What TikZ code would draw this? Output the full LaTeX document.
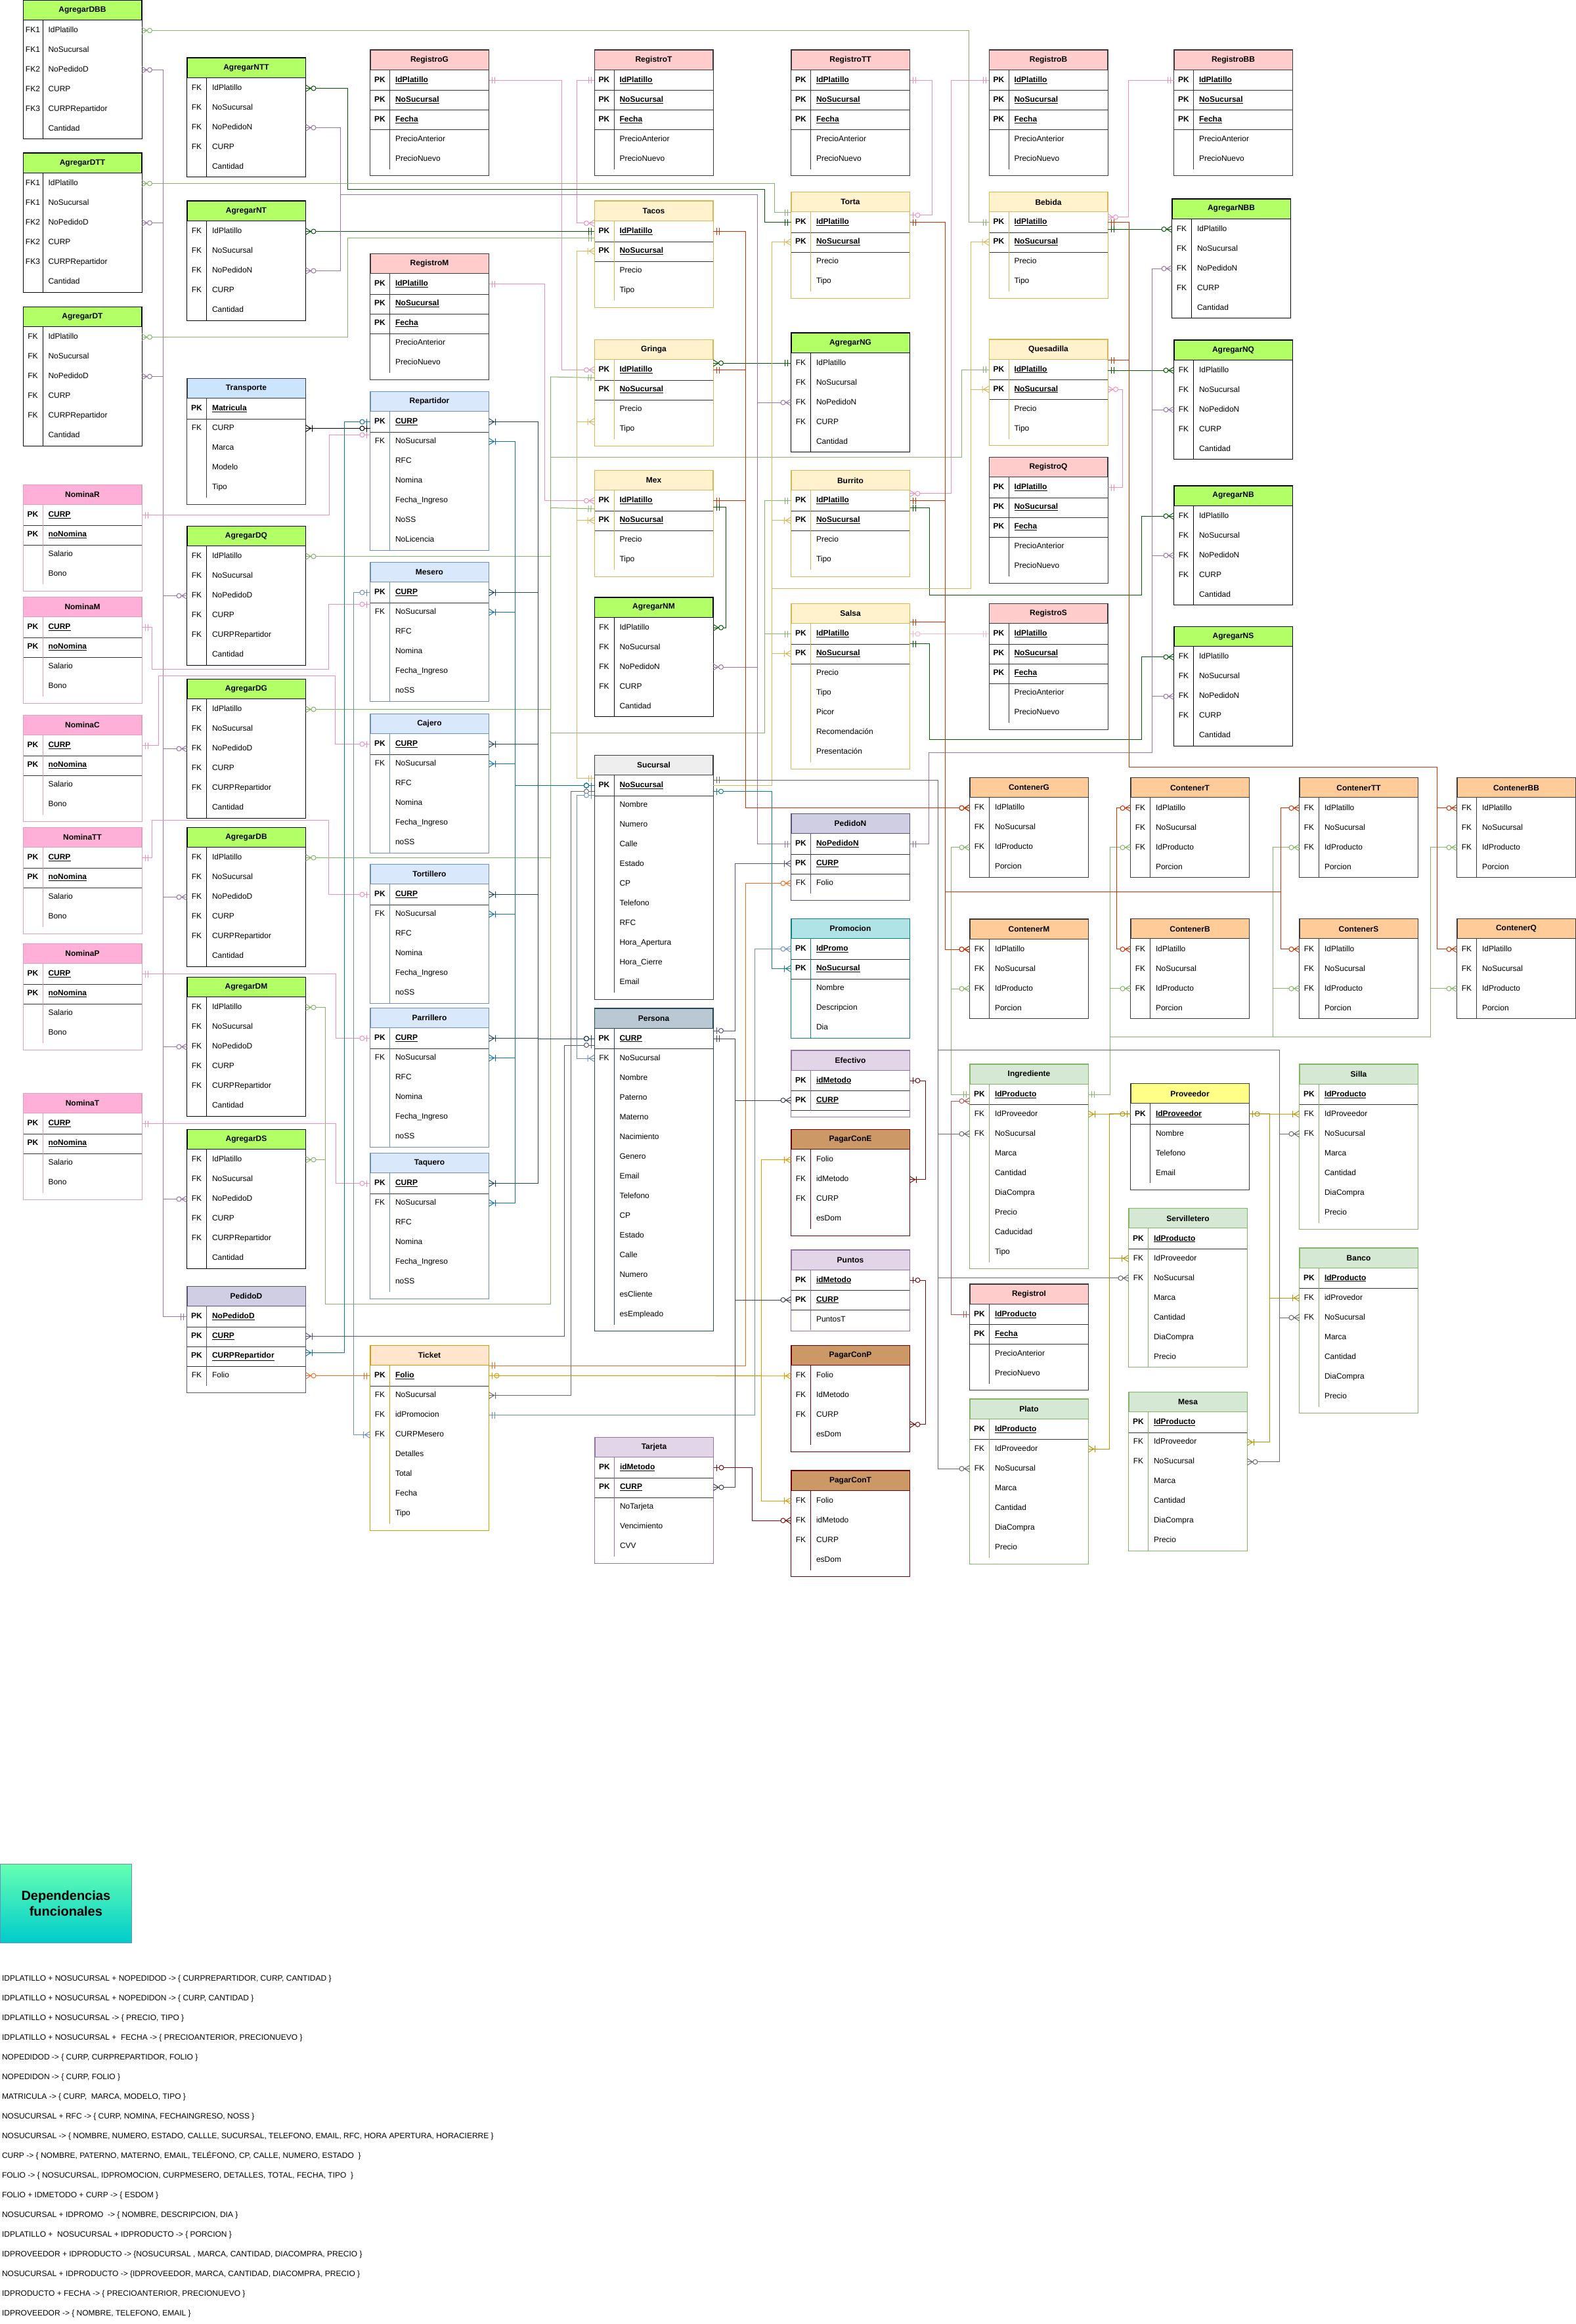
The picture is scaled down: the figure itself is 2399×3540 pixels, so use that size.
\documentclass[tikz,border=0pt]{standalone}
\usepackage{fontspec}
\setmainfont{Liberation Sans}
\usepackage{tikz}
\usetikzlibrary{decorations.markings}

% table colours (header / border)
\definecolor{hgrn}{HTML}{B3FF66} \definecolor{bgrn}{HTML}{000000}
\definecolor{hreg}{HTML}{FFCCCC} \definecolor{breg}{HTML}{36393D}
\definecolor{hyel}{HTML}{FFF2CC} \definecolor{byel}{HTML}{D6B656}
\definecolor{hnom}{HTML}{FFB0D8} \definecolor{bnom}{HTML}{E0A0B8}
\definecolor{htra}{HTML}{CCE5FF} \definecolor{btra}{HTML}{36393D}
\definecolor{hemp}{HTML}{DAE8FC} \definecolor{bemp}{HTML}{6C8EBF}
\definecolor{hped}{HTML}{D0CEE2} \definecolor{bped}{HTML}{56517E}
\definecolor{htic}{HTML}{FFE6CC} \definecolor{btic}{HTML}{D79B00}
\definecolor{hsuc}{HTML}{EEEEEE} \definecolor{bsuc}{HTML}{36393D}
\definecolor{hper}{HTML}{BAC8D3} \definecolor{bper}{HTML}{23445D}
\definecolor{hpro}{HTML}{B0E3E6} \definecolor{bpro}{HTML}{0E8088}
\definecolor{hmet}{HTML}{E1D5E7} \definecolor{bmet}{HTML}{9673A6}
\definecolor{hpag}{HTML}{CC9966} \definecolor{bpag}{HTML}{6F0000}
\definecolor{hcon}{HTML}{FFCC99} \definecolor{bcon}{HTML}{36393D}
\definecolor{hinv}{HTML}{D5E8D4} \definecolor{binv}{HTML}{82B366}
\definecolor{hprv}{HTML}{FFFF88} \definecolor{bprv}{HTML}{36393D}
% connector colours
\definecolor{cpink}{HTML}{F28DC0}
\definecolor{clpink}{HTML}{F8B4D4}
\definecolor{cred}{HTML}{C83200}
\definecolor{cdgreen}{HTML}{005700}
\definecolor{clgreen}{HTML}{82B366}
\definecolor{cgold}{HTML}{D6B656}
\definecolor{cpurple}{HTML}{9673A6}
\definecolor{cnavy}{HTML}{23445D}
\definecolor{cblue}{HTML}{10739E}
\definecolor{clblue}{HTML}{6C8EBF}
\definecolor{cgray}{HTML}{666666}
\definecolor{cslate}{HTML}{56517E}
\definecolor{cteal}{HTML}{0E8088}
\definecolor{corange}{HTML}{F26B1D}
\definecolor{camber}{HTML}{D79B00}
\definecolor{cmaroon}{HTML}{7A0A0A}
\definecolor{cbrick}{HTML}{B85450}
\definecolor{colive}{HTML}{B09500}
\definecolor{cdark}{HTML}{3A3F4A}
\definecolor{dtop}{HTML}{66FFB2}
\definecolor{dbot}{HTML}{00CCCC}

\begin{document}
\begin{tikzpicture}[x=1pt, y=-1pt, line width=1pt, font=\fontsize{12}{14}\selectfont,
  tblhead/.style={anchor=north west, minimum width=180pt, minimum height=30pt, inner sep=0pt, font=\fontsize{12}{14}\selectfont\bfseries},
  tblrow/.style={anchor=north west, minimum width=180pt, minimum height=30pt, inner sep=0pt},
  rowtxt/.style={inner sep=0pt, text height=8.6pt, text depth=2.4pt},
  pktxt/.style={rowtxt, font=\fontsize{12}{14}\selectfont\bfseries},
  cn/.style={color=#1, line width=1pt},
  s1/.style={postaction={decorate, decoration={markings, mark=at position 0 with {\pgftransformxscale{-1}\erOne}}}},
  e1/.style={postaction={decorate, decoration={markings, mark=at position 1 with {\erOne}}}},
  sZ/.style={postaction={decorate, decoration={markings, mark=at position 0 with {\pgftransformxscale{-1}\erZmany}}}},
  eZ/.style={postaction={decorate, decoration={markings, mark=at position 1 with {\erZmany}}}},
  sM/.style={postaction={decorate, decoration={markings, mark=at position 0 with {\pgftransformxscale{-1}\erOmany}}}},
  eM/.style={postaction={decorate, decoration={markings, mark=at position 1 with {\erOmany}}}},
  sO/.style={postaction={decorate, decoration={markings, mark=at position 0 with {\pgftransformxscale{-1}\erZone}}}},
  eO/.style={postaction={decorate, decoration={markings, mark=at position 1 with {\erZone}}}},
  depbox/.style={draw=clblue, top color=dtop, bottom color=dbot, minimum width=200.7pt, minimum height=120pt, inner sep=0pt, align=center, font=\fontsize{20}{24}\selectfont\bfseries},
  deptxt/.style={anchor=west, inner sep=0pt}
]
  % Set the page size
  \useasboundingbox (0,0) rectangle (2399,3540);

  % Relationship end marks
  \newcommand{\erOne}{\draw[line width=1pt] (-5pt,-5pt) -- (-5pt,5pt) (-9pt,-5pt) -- (-9pt,5pt);}
  \newcommand{\erZmany}{\draw[line width=1pt] (0pt,-5pt) -- (-8pt,0pt) -- (0pt,5pt); \draw[line width=1pt, fill=white] (-12pt,0pt) circle (3.5pt);}
  \newcommand{\erOmany}{\draw[line width=1pt] (0pt,-5pt) -- (-8pt,0pt) -- (0pt,5pt) (-10pt,-5pt) -- (-10pt,5pt);}
  \newcommand{\erZone}{\draw[line width=1pt] (-5pt,-5pt) -- (-5pt,5pt); \draw[line width=1pt, fill=white] (-12pt,0pt) circle (3.5pt);}

  % Table: [bottom pad]{name}{x,y}{colour}{title}{key/field/pk,...}
  \newcommand{\ertable}[6][0]{%
    \node[tblhead, fill=h#4, draw=b#4] (#2) at (#3) {#5};
    \foreach \k/\n/\p [count=\i] in {#6} {
      \node[tblrow] (#2-\i) at ([yshift={-30*(\i-1)}]#2.south west) {};
      \ifnum\p=1\relax
        \node[pktxt] (#2-\i-k) at ([xshift=15pt]#2-\i.west) {\k};
        \node[pktxt, anchor=west] (#2-\i-n) at ([xshift=38pt]#2-\i.west) {\underline{\n}};
        \draw[black!80] (#2-\i.south west) -- (#2-\i.south east);
      \else
        \node[rowtxt] (#2-\i-k) at ([xshift=15pt]#2-\i.west) {\k};
        \node[rowtxt, anchor=west] (#2-\i-n) at ([xshift=38pt]#2-\i.west) {\n};
      \fi
      \xdef\ertn{\i}
    }
    \draw[b#4] ([xshift=30pt]#2.south west) -- ([xshift=30pt]#2-\ertn.south west);
    \draw[b#4] (#2.north west) rectangle ([yshift=-#1pt]#2-\ertn.south east);
  }

  % Column 1
  \ertable{agDBB}{35,0}{grn}{AgregarDBB}{FK1/IdPlatillo/0, FK1/NoSucursal/0, FK2/NoPedidoD/0, FK2/CURP/0, FK3/CURPRepartidor/0, /Cantidad/0}
  \ertable{agDTT}{35,233}{grn}{AgregarDTT}{FK1/IdPlatillo/0, FK1/NoSucursal/0, FK2/NoPedidoD/0, FK2/CURP/0, FK3/CURPRepartidor/0, /Cantidad/0}
  \ertable{agDT}{35,467}{grn}{AgregarDT}{FK/IdPlatillo/0, FK/NoSucursal/0, FK/NoPedidoD/0, FK/CURP/0, FK/CURPRepartidor/0, /Cantidad/0}
  \ertable[10]{nomR}{35,738}{nom}{NominaR}{PK/CURP/1, PK/noNomina/1, /Salario/0, /Bono/0}
  \ertable[10]{nomM}{35,909}{nom}{NominaM}{PK/CURP/1, PK/noNomina/1, /Salario/0, /Bono/0}
  \ertable[10]{nomC}{35,1089}{nom}{NominaC}{PK/CURP/1, PK/noNomina/1, /Salario/0, /Bono/0}
  \ertable[10]{nomTT}{35,1260}{nom}{NominaTT}{PK/CURP/1, PK/noNomina/1, /Salario/0, /Bono/0}
  \ertable[10]{nomP}{35,1437}{nom}{NominaP}{PK/CURP/1, PK/noNomina/1, /Salario/0, /Bono/0}
  \ertable[10]{nomT}{35,1665}{nom}{NominaT}{PK/CURP/1, PK/noNomina/1, /Salario/0, /Bono/0}

  % Column 2
  \ertable{agNTT}{284.5,88}{grn}{AgregarNTT}{FK/IdPlatillo/0, FK/NoSucursal/0, FK/NoPedidoN/0, FK/CURP/0, /Cantidad/0}
  \ertable{agNT}{284.5,306}{grn}{AgregarNT}{FK/IdPlatillo/0, FK/NoSucursal/0, FK/NoPedidoN/0, FK/CURP/0, /Cantidad/0}
  \ertable[10]{transp}{284.5,576}{tra}{Transporte}{PK/Matricula/1, FK/CURP/0, /Marca/0, /Modelo/0, /Tipo/0}
  \ertable{agDQ}{284.5,801}{grn}{AgregarDQ}{FK/IdPlatillo/0, FK/NoSucursal/0, FK/NoPedidoD/0, FK/CURP/0, FK/CURPRepartidor/0, /Cantidad/0}
  \ertable{agDG}{284.5,1034}{grn}{AgregarDG}{FK/IdPlatillo/0, FK/NoSucursal/0, FK/NoPedidoD/0, FK/CURP/0, FK/CURPRepartidor/0, /Cantidad/0}
  \ertable{agDB}{284.5,1260}{grn}{AgregarDB}{FK/IdPlatillo/0, FK/NoSucursal/0, FK/NoPedidoD/0, FK/CURP/0, FK/CURPRepartidor/0, /Cantidad/0}
  \ertable{agDM}{284.5,1488}{grn}{AgregarDM}{FK/IdPlatillo/0, FK/NoSucursal/0, FK/NoPedidoD/0, FK/CURP/0, FK/CURPRepartidor/0, /Cantidad/0}
  \ertable{agDS}{284.5,1720}{grn}{AgregarDS}{FK/IdPlatillo/0, FK/NoSucursal/0, FK/NoPedidoD/0, FK/CURP/0, FK/CURPRepartidor/0, /Cantidad/0}
  \ertable[10]{pedD}{284.5,1959}{ped}{PedidoD}{PK/NoPedidoD/1, PK/CURP/1, PK/CURPRepartidor/1, FK/Folio/0}

  % Column 3
  \ertable[10]{regG}{563.5,76}{reg}{RegistroG}{PK/IdPlatillo/1, PK/NoSucursal/1, PK/Fecha/1, /PrecioAnterior/0, /PrecioNuevo/0}
  \ertable[10]{regM}{563.5,386}{reg}{RegistroM}{PK/IdPlatillo/1, PK/NoSucursal/1, PK/Fecha/1, /PrecioAnterior/0, /PrecioNuevo/0}
  \ertable{repar}{563.5,596}{emp}{Repartidor}{PK/CURP/1, FK/NoSucursal/0, /RFC/0, /Nomina/0, /Fecha\_Ingreso/0, /NoSS/0, /NoLicencia/0}
  \ertable{meser}{563.5,856}{emp}{Mesero}{PK/CURP/1, FK/NoSucursal/0, /RFC/0, /Nomina/0, /Fecha\_Ingreso/0, /noSS/0}
  \ertable{cajer}{563.5,1087}{emp}{Cajero}{PK/CURP/1, FK/NoSucursal/0, /RFC/0, /Nomina/0, /Fecha\_Ingreso/0, /noSS/0}
  \ertable{torti}{563.5,1316}{emp}{Tortillero}{PK/CURP/1, FK/NoSucursal/0, /RFC/0, /Nomina/0, /Fecha\_Ingreso/0, /noSS/0}
  \ertable{parri}{563.5,1535}{emp}{Parrillero}{PK/CURP/1, FK/NoSucursal/0, /RFC/0, /Nomina/0, /Fecha\_Ingreso/0, /noSS/0}
  \ertable[10]{taque}{563.5,1756}{emp}{Taquero}{PK/CURP/1, FK/NoSucursal/0, /RFC/0, /Nomina/0, /Fecha\_Ingreso/0, /noSS/0}
  \ertable[10]{ticket}{563.5,2049}{tic}{Ticket}{PK/Folio/1, FK/NoSucursal/0, FK/idPromocion/0, FK/CURPMesero/0, /Detalles/0, /Total/0, /Fecha/0, /Tipo/0}

  % Column 4
  \ertable[10]{regT}{905,76}{reg}{RegistroT}{PK/IdPlatillo/1, PK/NoSucursal/1, PK/Fecha/1, /PrecioAnterior/0, /PrecioNuevo/0}
  \ertable[10]{tacos}{905,306}{yel}{Tacos}{PK/IdPlatillo/1, PK/NoSucursal/1, /Precio/0, /Tipo/0}
  \ertable[10]{gringa}{905,517}{yel}{Gringa}{PK/IdPlatillo/1, PK/NoSucursal/1, /Precio/0, /Tipo/0}
  \ertable[10]{mex}{905,716.3}{yel}{Mex}{PK/IdPlatillo/1, PK/NoSucursal/1, /Precio/0, /Tipo/0}
  \ertable{agNM}{905,909.5}{grn}{AgregarNM}{FK/IdPlatillo/0, FK/NoSucursal/0, FK/NoPedidoN/0, FK/CURP/0, /Cantidad/0}
  \ertable[10]{sucur}{905,1150}{suc}{Sucursal}{PK/NoSucursal/1, /Nombre/0, /Numero/0, /Calle/0, /Estado/0, /CP/0, /Telefono/0, /RFC/0, /Hora\_Apertura/0, /Hora\_Cierre/0, /Email/0}
  \ertable[10]{perso}{905,1535.5}{per}{Persona}{PK/CURP/1, FK/NoSucursal/0, /Nombre/0, /Paterno/0, /Materno/0, /Nacimiento/0, /Genero/0, /Email/0, /Telefono/0, /CP/0, /Estado/0, /Calle/0, /Numero/0, /esCliente/0, /esEmpleado/0}
  \ertable[10]{tarje}{905.5,2189}{met}{Tarjeta}{PK/idMetodo/1, PK/CURP/1, /NoTarjeta/0, /Vencimiento/0, /CVV/0}

  % Column 5
  \ertable[10]{regTT}{1204.5,76}{reg}{RegistroTT}{PK/IdPlatillo/1, PK/NoSucursal/1, PK/Fecha/1, /PrecioAnterior/0, /PrecioNuevo/0}
  \ertable[10]{torta}{1204.5,292.3}{yel}{Torta}{PK/IdPlatillo/1, PK/NoSucursal/1, /Precio/0, /Tipo/0}
  \ertable{agNG}{1204.5,506.6}{grn}{AgregarNG}{FK/IdPlatillo/0, FK/NoSucursal/0, FK/NoPedidoN/0, FK/CURP/0, /Cantidad/0}
  \ertable[10]{burri}{1204.5,716.3}{yel}{Burrito}{PK/IdPlatillo/1, PK/NoSucursal/1, /Precio/0, /Tipo/0}
  \ertable[10]{salsa}{1204.5,919.2}{yel}{Salsa}{PK/IdPlatillo/1, PK/NoSucursal/1, /Precio/0, /Tipo/0, /Picor/0, /Recomendación/0, /Presentación/0}
  \ertable[10]{pedN}{1204.5,1239}{ped}{PedidoN}{PK/NoPedidoN/1, PK/CURP/1, FK/Folio/0}
  \ertable{promo}{1204.5,1399}{pro}{Promocion}{PK/IdPromo/1, PK/NoSucursal/1, /Nombre/0, /Descripcion/0, /Dia/0}
  \ertable[10]{efect}{1204.5,1599.5}{met}{Efectivo}{PK/idMetodo/1, PK/CURP/1}
  \ertable[10]{pagE}{1204.5,1720.3}{pag}{PagarConE}{FK/Folio/0, FK/idMetodo/0, FK/CURP/0, /esDom/0}
  \ertable[2]{punto}{1204.5,1903.5}{met}{Puntos}{PK/idMetodo/1, PK/CURP/1, /PuntosT/0}
  \ertable[10]{pagP}{1204.5,2049.3}{pag}{PagarConP}{FK/Folio/0, FK/IdMetodo/0, FK/CURP/0, /esDom/0}
  \ertable[10]{pagT}{1204.5,2239.6}{pag}{PagarConT}{FK/Folio/0, FK/idMetodo/0, FK/CURP/0, /esDom/0}

  % Column 6
  \ertable[10]{regB}{1506,76}{reg}{RegistroB}{PK/IdPlatillo/1, PK/NoSucursal/1, PK/Fecha/1, /PrecioAnterior/0, /PrecioNuevo/0}
  \ertable[10]{bebid}{1506,292.3}{yel}{Bebida}{PK/IdPlatillo/1, PK/NoSucursal/1, /Precio/0, /Tipo/0}
  \ertable[10]{quesa}{1506,516.5}{yel}{Quesadilla}{PK/IdPlatillo/1, PK/NoSucursal/1, /Precio/0, /Tipo/0}
  \ertable[10]{regQ}{1506,696.3}{reg}{RegistroQ}{PK/IdPlatillo/1, PK/NoSucursal/1, PK/Fecha/1, /PrecioAnterior/0, /PrecioNuevo/0}
  \ertable[10]{regS}{1506,919.2}{reg}{RegistroS}{PK/IdPlatillo/1, PK/NoSucursal/1, PK/Fecha/1, /PrecioAnterior/0, /PrecioNuevo/0}
  \ertable{conG}{1476.5,1184.3}{con}{ContenerG}{FK/IdPlatillo/0, FK/NoSucursal/0, FK/IdProducto/0, /Porcion/0}
  \ertable{conM}{1476.5,1399.5}{con}{ContenerM}{FK/IdPlatillo/0, FK/NoSucursal/0, FK/IdProducto/0, /Porcion/0}
  \ertable[10]{ingre}{1476.5,1620.6}{inv}{Ingrediente}{PK/IdProducto/1, FK/IdProveedor/0, FK/NoSucursal/0, /Marca/0, /Cantidad/0, /DiaCompra/0, /Precio/0, /Caducidad/0, /Tipo/0}
  \ertable[10]{regI}{1476.5,1955.6}{reg}{RegistroI}{PK/IdProducto/1, PK/Fecha/1, /PrecioAnterior/0, /PrecioNuevo/0}
  \ertable[10]{plato}{1476.5,2130.6}{inv}{Plato}{PK/IdProducto/1, FK/IdProveedor/0, FK/NoSucursal/0, /Marca/0, /Cantidad/0, /DiaCompra/0, /Precio/0}

  % Column 7
  \ertable[10]{regBB}{1787.5,76}{reg}{RegistroBB}{PK/IdPlatillo/1, PK/NoSucursal/1, PK/Fecha/1, /PrecioAnterior/0, /PrecioNuevo/0}
  \ertable{agNBB}{1784.5,302.6}{grn}{AgregarNBB}{FK/IdPlatillo/0, FK/NoSucursal/0, FK/NoPedidoN/0, FK/CURP/0, /Cantidad/0}
  \ertable{agNQ}{1787.5,517.6}{grn}{AgregarNQ}{FK/IdPlatillo/0, FK/NoSucursal/0, FK/NoPedidoN/0, FK/CURP/0, /Cantidad/0}
  \ertable{agNB}{1787.5,739.6}{grn}{AgregarNB}{FK/IdPlatillo/0, FK/NoSucursal/0, FK/NoPedidoN/0, FK/CURP/0, /Cantidad/0}
  \ertable{agNS}{1787.5,954.3}{grn}{AgregarNS}{FK/IdPlatillo/0, FK/NoSucursal/0, FK/NoPedidoN/0, FK/CURP/0, /Cantidad/0}
  \ertable{conT}{1721.5,1184.4}{con}{ContenerT}{FK/IdPlatillo/0, FK/NoSucursal/0, FK/IdProducto/0, /Porcion/0}
  \ertable{conB}{1721.5,1399.4}{con}{ContenerB}{FK/IdPlatillo/0, FK/NoSucursal/0, FK/IdProducto/0, /Porcion/0}
  \ertable[10]{prove}{1721.5,1650.4}{prv}{Proveedor}{PK/IdProveedor/1, /Nombre/0, /Telefono/0, /Email/0}
  \ertable{servi}{1718.5,1840.4}{inv}{Servilletero}{PK/IdProducto/1, FK/IdProveedor/0, FK/NoSucursal/0, /Marca/0, /Cantidad/0, /DiaCompra/0, /Precio/0}
  \ertable{mesa}{1718.5,2120.3}{inv}{Mesa}{PK/IdProducto/1, FK/IdProveedor/0, FK/NoSucursal/0, /Marca/0, /Cantidad/0, /DiaCompra/0, /Precio/0}

  % Columns 8 and 9
  \ertable{conTT}{1978.5,1184.4}{con}{ContenerTT}{FK/IdPlatillo/0, FK/NoSucursal/0, FK/IdProducto/0, /Porcion/0}
  \ertable{conS}{1978.5,1399.4}{con}{ContenerS}{FK/IdPlatillo/0, FK/NoSucursal/0, FK/IdProducto/0, /Porcion/0}
  \ertable[10]{silla}{1978.5,1620.6}{inv}{Silla}{PK/IdProducto/1, FK/IdProveedor/0, FK/NoSucursal/0, /Marca/0, /Cantidad/0, /DiaCompra/0, /Precio/0}
  \ertable[10]{banco}{1978.5,1900.5}{inv}{Banco}{PK/IdProducto/1, FK/idProvedor/0, FK/NoSucursal/0, /Marca/0, /Cantidad/0, /DiaCompra/0, /Precio/0}
  \ertable{conBB}{2218.5,1184.4}{con}{ContenerBB}{FK/IdPlatillo/0, FK/NoSucursal/0, FK/IdProducto/0, /Porcion/0}
  \ertable{conQ}{2218.5,1399.4}{con}{ContenerQ}{FK/IdPlatillo/0, FK/NoSucursal/0, FK/IdProducto/0, /Porcion/0}

  % Registro links
  \draw[cn=cpink, s1, eZ] (regG-1.east) -- ++(111,0) |- (gringa-1.west);
  \draw[cn=cpink, s1, eZ] (regT-1.west) -- ++(-26.5,0) |- ([yshift=12.5pt]tacos-1.west);
  \draw[cn=cpink, s1, eZ] (regM-1.east) -- ++(84.5,0) |- (mex-1.west);
  \draw[cn=cpink, s1, eO] (regTT-1.east) -- ++(33.5,0) |- ([yshift=11pt]torta-1.east);
  \draw[cn=cpink, s1, eZ] (regB-1.west) -- ++(-57.5,0) |- ([yshift=11pt]burri-1.east);
  \draw[cn=cpink, s1, eZ] (regBB-1.west) -- ++(-69,0) |- ([yshift=8pt]bebid-1.east);
  \draw[cn=cpink, s1, eZ] (regQ-1.east) -- ++(22.6,0) |- (quesa-2.east);
  \draw[cn=clpink, s1, eO] (regS-1.west) -- (salsa-1.east);

  % AgregarN links
  \draw[cn=cdgreen, sZ, e1] (agNTT-1.east) -- ++(64,0) |- (1164,289) |- (torta-1.west);
  \draw[cn=cdgreen, sZ, e1] (agNT-1.east) -- (tacos-1.west);
  \draw[cn=cdgreen, sZ, e1] (gringa-1.east |- agNG-1.west) -- (agNG-1.west);
  \draw[cn=cdgreen, s1, eZ] ([yshift=-10pt]mex-1.east) -- ++(19.6,0) |- (agNM-1.east);
  \draw[cn=cdgreen, s1, eZ] ([yshift=-11pt]burri-1.east) -- ++(29.5,0) |- (1738.4,906) |- (agNB-1.west);
  \draw[cn=cdgreen, s1, eZ] ([yshift=-15pt]salsa-1.east) -- ++(29.5,0) |- (1738.4,1126) |- (agNS-1.west);
  \draw[cn=cdgreen, s1, eZ] (bebid-1.east |- agNBB-1.west) -- (agNBB-1.west);
  \draw[cn=cdgreen, s1, eZ] (quesa-1.east |- agNQ-1.west) -- (agNQ-1.west);

  % AgregarD links
  \draw[cn=clgreen, sZ, e1] (agDBB-1.east) -- ++(1259.5,0) |- (bebid-1.west);
  \draw[cn=clgreen, sZ, e1] (agDTT-1.east) -- ++(963.6,0) |- ([yshift=15pt]torta-1.west);
  \draw[cn=clgreen, sZ, e1] (agDT-1.east) -- ++(313.4,0) |- ([yshift=-10pt]tacos-1.west);
  \draw[cn=clgreen, sZ, e1] (agDQ-1.east) -| (838.5,696) -| (1464,620) |- (quesa-1.west);
  \draw[cn=clgreen, sZ, e1] (agDG-1.east) -| (838.5,574) -- ([yshift=-12pt]gringa-1.west);
  \draw[cn=clgreen, sZ, e1] (agDB-1.east) -| (838.5,773.5) -- ([yshift=-12.2pt]mex-1.west);
  \draw[cn=clgreen, sZ, e1] (agDM-1.east) -- ++(30,0) |- (838.5,1986) |- (1164,1116) |- (salsa-1.west);
  \draw[cn=clgreen, sZ, e1] (agDS-1.east) -- ++(30,0) |- (838.5,1986) |- (1164,1116) |- (burri-1.west);

  % Ingrediente to Contener links
  \foreach \c in {conG, conM}
    \draw[cn=clgreen, s1, eZ] (ingre-1.west) -- ++(-28.5,0) |- (\c-3.west);
  \foreach \c in {conT, conB}
    \draw[cn=clgreen, s1, eZ] (ingre-1.east) -- ++(32.5,0) |- (\c-3.west);
  \foreach \c in {conTT, conS}
    \draw[cn=clgreen, s1, eZ] (ingre-1.east) -- ++(32.5,0) |- (1938,1579) |- (\c-3.west);
  \foreach \c in {conBB, conQ}
    \draw[cn=clgreen, s1, eZ] (ingre-1.east) -- ++(32.5,0) |- (2178.5,1579) |- (\c-3.west);

  % Sucursal to platillos
  \draw[cn=cgold, s1, eM] ([yshift=11pt]sucur-1.west) -- ++(-26.4,0) |- (tacos-2.west);
  \draw[cn=cgold, eM] ([yshift=11pt]sucur-1.west) -- ++(-26.4,0) |- ([yshift=-19pt]gringa-3.west);
  \draw[cn=cgold, eM] ([yshift=11pt]sucur-1.west) -- ++(-26.4,0) |- (mex-2.west);
  \foreach \t in {torta, burri, salsa}
    \draw[cn=cgold, eM] (sucur-1.east) -- ++(89,0) |- (\t-2.west);
  \foreach \t in {bebid, quesa}
    \draw[cn=cgold, eM] (sucur-1.east) -- ++(89,0) |- (1478.6,896.5) |- (\t-2.west);

  % PedidoN links
  \draw[cn=cpurple, s1, eZ] (pedN-1.west) -- ++(-51,0) |- (agNM-3.east);
  \draw[cn=cpurple, s1, eZ] (pedN-1.west) -- ++(-51,0) |- (agNG-3.west);
  \foreach \a in {agNTT, agNT}
    \draw[cn=cpurple, s1, eZ] (pedN-1.west) -- ++(-51,0) |- (518.7,296.4) |- (\a-3.east);
  \foreach \a in {agNS, agNB, agNQ, agNBB}
    \draw[cn=cpurple, s1, eZ] (pedN-1.east) -- ++(29,0) |- (1754.7,1146.5) |- (\a-3.west);

  % PedidoD links
  \foreach \a in {agDBB, agDTT, agDT}
    \draw[cn=cpurple, s1, eZ] (pedD-1.west) -- ++(-36.3,0) |- (\a-3.east);
  \foreach \a in {agDQ, agDG, agDB, agDM, agDS}
    \draw[cn=cpurple, s1, eZ] (pedD-1.west) -- ++(-36.3,0) |- (\a-3.west);

  % Nomina links
  \draw[cn=cpink, s1, eO] (nomR-1.east) -- ++(285,0) |- ([yshift=-20pt]repar-1.west);
  \draw[cn=cpink, s1, eO] (nomM-1.east) -- ++(15,0) |- (500,1019) |- ([yshift=-18pt]meser-1.west);
  \draw[cn=cpink, s1, eO] (nomC-1.east) -- ++(25,0) |- (510.6,1029) |- (cajer-1.west);
  \draw[cn=cpink, s1, eO] (nomTT-1.east) -- ++(15,0) |- (500,1249) |- (torti-1.west);
  \draw[cn=cpink, s1, eO] (nomP-1.east) -- ++(295.6,0) |- (parri-1.west);
  \draw[cn=cpink, s1, eO] (nomT-1.east) -- ++(295.6,0) |- (taque-1.west);

  % Empleados to Persona and Sucursal
  \foreach \e in {repar, meser, cajer, torti, parri, taque} {
    \draw[cn=cnavy, sM, eO] (\e-1.east) -- ++(74.5,0) |- (perso-1.west);
    \draw[cn=cblue, sM, eO] (\e-2.east) -- ++(40.2,0) |- (sucur-1.west);
  }
  \draw[cn=black, sM, eO] (transp-2.east) -- (transp-2.east -| repar-1.west);
  \draw[cn=cblue, sO, eM] (repar-1.west) -- ++(-39,0) |- ([yshift=5pt]pedD-3.east);
  \draw[cn=clblue, sO, eM] (meser-1.west) -- ++(-25.5,0) |- (ticket-4.west);

  % Persona, Ticket and Sucursal links
  \draw[cn=cslate, sM, eO] (pedD-2.east) -- ++(394,0) |- ([yshift=-10pt]perso-1.west);
  \draw[cn=cslate, sO, eM] ([yshift=12pt]perso-1.east) -- ++(33,0) |- (pedN-2.west);
  \draw[cn=cgray, sM, eO] (ticket-2.east) -- ++(125,0) |- ([yshift=-9pt]sucur-1.west);
  \draw[cn=clblue, sM, eO] (perso-2.west) -- ++(-26.4,0) |- ([yshift=-15pt]sucur-1.west);
  \draw[cn=cteal, sO, eM] ([yshift=-9pt]sucur-1.east) -- ++(89,0) |- (promo-2.west);
  \draw[cn=clblue, s1, eZ] (ticket-3.east) -- ++(405,0) |- (promo-1.west);
  \draw[cn=corange, s1, eZ] (ticket.south east) -- ++(390.5,0) |- (pedN-3.west);
  \draw[cn=corange, sZ, e1] (pedD-4.east) -- (ticket-1.west);
  \draw[cn=camber, sO, eM] (ticket-1.east) -- (pagP-1.west);
  \draw[cn=camber, eM] (ticket-1.east) -- ++(414.5,0) |- (pagE-1.west);
  \draw[cn=camber, eM] (ticket-1.east) -- ++(414.5,0) |- (pagT-1.west);

  % Metodo de pago links
  \draw[cn=cmaroon, sO, eM] (efect-1.east) -- ++(23.5,0) |- (pagE-2.east);
  \draw[cn=cmaroon, sO, eZ] (punto-1.east) -- ++(23.5,0) |- ([yshift=-14pt]pagP-3.east);
  \draw[cn=cmaroon, sO, eZ] (tarje-1.east) -- ++(59,0) |- (pagT-2.west);
  \draw[cn=cdark, s1, eZ] (perso-1.east) -- ++(33,0) |- (efect-2.west);
  \draw[cn=cdark, s1, eZ] (perso-1.east) -- ++(33,0) |- (punto-2.west);
  \draw[cn=cdark, s1, eZ] (perso-1.east) -- ++(33,0) |- (tarje-2.east);

  % Sucursal to inventario
  \foreach \t in {ingre, plato, servi}
    \draw[cn=cgray, s1, eZ] ([yshift=8.5pt]sucur-1.east) -- ++(342.5,0) |- (\t-3.west);
  \foreach \t in {silla, banco}
    \draw[cn=cgray, s1, eZ] ([yshift=8.5pt]sucur-1.east) -- ++(342.5,0) |- (1948.5,1599) |- (\t-3.west);
  \draw[cn=cgray, s1, eZ] ([yshift=8.5pt]sucur-1.east) -- ++(342.5,0) |- (1948.5,1599) |- (mesa-3.east);
  \draw[cn=cbrick, s1, eZ] (regI-1.west) -- ++(-28.5,0) |- ([yshift=-10pt]ingre-1.west);

  % Platillos to Contener
  \foreach \t in {tacos, gringa, mex}
    \draw[cn=cred, s1, eZ] (\t-1.east) -- ++(49,0) |- (conG-1.west);
  \draw[cn=cred, s1, eZ] (torta-1.east) -- ++(53.5,0) |- (conM-1.west);
  \draw[cn=cred, s1, eZ] (burri-1.east) -- ++(53.5,0) |- (conM-1.west);
  \draw[cn=cred, s1, eZ] ([yshift=18pt]salsa-1.east) -- ++(53.5,0) |- (conM-1.west);
  \draw[cn=cred, eZ] (torta-1.east) -- ++(53.5,0) |- (1700,1358.8) |- (conT-1.west);
  \draw[cn=cred, eZ] (burri-1.east) -- ++(53.5,0) |- (1700,1358.8) |- (conB-1.west);
  \draw[cn=cred, eZ] ([yshift=18pt]salsa-1.east) -- ++(53.5,0) |- (1950.5,1358.8) |- (conTT-1.west);
  \draw[cn=cred, eZ] ([yshift=18pt]salsa-1.east) -- ++(53.5,0) |- (1950.5,1358.8) |- (conS-1.west);
  \draw[cn=cred, s1, eZ] (bebid-1.east) -- ++(32.4,0) |- (2188.3,1168.7) |- (conBB-1.west);
  \draw[cn=cred, s1, eZ] ([yshift=14.5pt]quesa-1.east) -- ++(32.4,0) |- (2188.3,1168.7) |- (conQ-1.west);

  % Proveedor links
  \draw[cn=colive, sO, eM] (prove-1.west) -- (ingre-2.east);
  \draw[cn=colive, eM] (prove-1.west) -- ++(-32.5,0) |- (plato-2.east);
  \draw[cn=colive, eM] (prove-1.west) -- ++(-32.5,0) |- (servi-2.west);
  \draw[cn=colive, sO, eM] (prove-1.east) -- (silla-2.west);
  \draw[cn=colive, eM] (prove-1.east) -- ++(30.5,0) |- (mesa-2.east);
  \draw[cn=colive, eM] (prove-1.east) -- ++(30.5,0) |- (banco-2.west);

  % Dependencias funcionales
  \node[depbox] (depTitle) at (100.35,2899.3) {Dependencias\\funcionales};
  \foreach \t [count=\i] in {
    {IDPLATILLO + NOSUCURSAL + NOPEDIDOD -> \{ CURPREPARTIDOR, CURP, CANTIDAD \}},
    {IDPLATILLO + NOSUCURSAL + NOPEDIDON -> \{ CURP, CANTIDAD \}},
    {IDPLATILLO + NOSUCURSAL -> \{ PRECIO, TIPO \}},
    {IDPLATILLO + NOSUCURSAL + \ FECHA -> \{ PRECIOANTERIOR, PRECIONUEVO \}},
    {NOPEDIDOD -> \{ CURP, CURPREPARTIDOR, FOLIO \}},
    {NOPEDIDON -> \{ CURP, FOLIO \}},
    {MATRICULA -> \{ CURP, \ MARCA, MODELO, TIPO \}},
    {NOSUCURSAL + RFC -> \{ CURP, NOMINA, FECHAINGRESO, NOSS \}},
    {NOSUCURSAL -> \{ NOMBRE, NUMERO, ESTADO, CALLLE, SUCURSAL, TELEFONO, EMAIL, RFC, HORA APERTURA, HORACIERRE \}},
    {CURP -> \{ NOMBRE, PATERNO, MATERNO, EMAIL, TELÉFONO, CP, CALLE, NUMERO, ESTADO \ \}},
    {FOLIO -> \{ NOSUCURSAL, IDPROMOCION, CURPMESERO, DETALLES, TOTAL, FECHA, TIPO \ \}},
    {FOLIO + IDMETODO + CURP -> \{ ESDOM \}},
    {NOSUCURSAL + IDPROMO \ -> \{ NOMBRE, DESCRIPCION, DIA \}},
    {IDPLATILLO + \ NOSUCURSAL + IDPRODUCTO -> \{ PORCION \}},
    {IDPROVEEDOR + IDPRODUCTO -> \{NOSUCURSAL , MARCA, CANTIDAD, DIACOMPRA, PRECIO \}},
    {NOSUCURSAL + IDPRODUCTO -> \{IDPROVEEDOR, MARCA, CANTIDAD, DIACOMPRA, PRECIO \}},
    {IDPRODUCTO + FECHA -> \{ PRECIOANTERIOR, PRECIONUEVO \}},
    {IDPROVEEDOR -> \{ NOMBRE, TELEFONO, EMAIL \}}}
    \node[deptxt] (dep\i) at (2.5,{2984+30*\i}) {\t};
\end{tikzpicture}
\end{document}
